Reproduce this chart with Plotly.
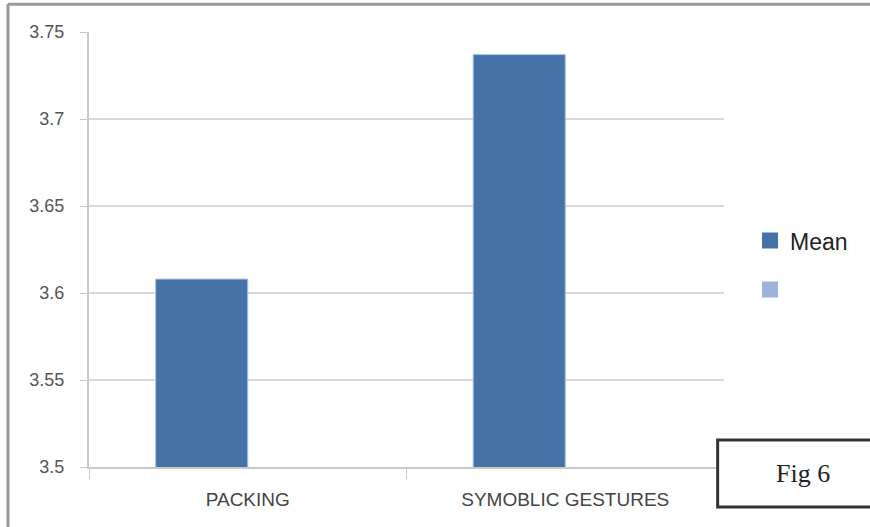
import plotly.graph_objects as go

categories = ["PACKING", "SYMOBLIC GESTURES"]
mean_values = [3.608, 3.737]
second_values = [None, None]
y_ticks = [3.5, 3.55, 3.6, 3.65, 3.7, 3.75]
y_tick_labels = ["3.5", "3.55", "3.6", "3.65", "3.7", "3.75"]

MEAN_COLOR = "#4572A7"
SECOND_COLOR = "#9DB3D9"

fig = go.Figure()
# clustered bars: the "Mean" series plus an empty companion series
fig.add_trace(go.Bar(
    x=categories, y=mean_values, name="Mean",
    marker=dict(color=MEAN_COLOR, line=dict(color="#A9C0DD", width=1)),
    showlegend=False,
))
fig.add_trace(go.Bar(
    x=categories, y=second_values, name=" ",
    marker=dict(color=SECOND_COLOR),
    showlegend=False,
))
# legend entries with larger square swatches
fig.add_trace(go.Scatter(
    x=[None], y=[None], mode="markers", name="Mean",
    marker=dict(symbol="square", size=17, color=MEAN_COLOR), legendgroup="a",
))
fig.add_trace(go.Scatter(
    x=[None], y=[None], mode="markers", name=" ",
    marker=dict(symbol="square", size=17, color=SECOND_COLOR), legendgroup="b",
))

fig.update_layout(
    width=870, height=527,
    margin=dict(l=89, r=146, t=32, b=60),
    paper_bgcolor="white", plot_bgcolor="white",
    barmode="group", bargap=0.42, bargroupgap=0,
    font=dict(family="Liberation Sans, Arial, sans-serif", color="#444444"),
    legend=dict(
        x=1.041, xanchor="left", y=0.464, yanchor="middle",
        font=dict(size=23, family="Liberation Sans, sans-serif", color="#222222"),
        tracegroupgap=16, itemwidth=30,
    ),
    showlegend=True,
)
fig.update_yaxes(
    range=[3.5, 3.75], tickvals=y_ticks, ticktext=y_tick_labels,
    showgrid=True, gridcolor="#D9D9D9", gridwidth=2,
    showline=True, linecolor="#C8C8C8", linewidth=2,
    ticks="outside", ticklen=7, tickcolor="#C8C8C8",
    ticklabelstandoff=12,
    tickfont=dict(size=18, color="#555555"), zeroline=False,
)
fig.update_xaxes(
    showline=True, linecolor="#C8C8C8", linewidth=2,
    ticks="outside", tickson="boundaries", ticklen=10, tickcolor="#C8C8C8",
    ticklabelstandoff=14,
    tickfont=dict(size=19, color="#444444"),
)

# outer frame (top and left edges)
fig.add_shape(type="line", xref="paper", yref="paper",
              x0=-0.1276, x1=1.25, y0=1.064, y1=1.064,
              line=dict(color="#999999", width=3))
fig.add_shape(type="line", xref="paper", yref="paper",
              x0=-0.1276, x1=-0.1276, y0=1.064, y1=-0.15,
              line=dict(color="#999999", width=3))

# figure caption box
fig.add_shape(type="rect", xref="paper", yref="paper",
              x0=0.99, x1=1.25, y0=0.062, y1=-0.092,
              line=dict(color="#333333", width=3), fillcolor="white")
fig.add_annotation(text="Fig 6", xref="paper", yref="paper",
                   x=1.124, y=-0.016, xanchor="center", yanchor="middle",
                   showarrow=False,
                   font=dict(family="Liberation Serif, serif", size=26, color="#222222"))

fig.write_html("out.html")
